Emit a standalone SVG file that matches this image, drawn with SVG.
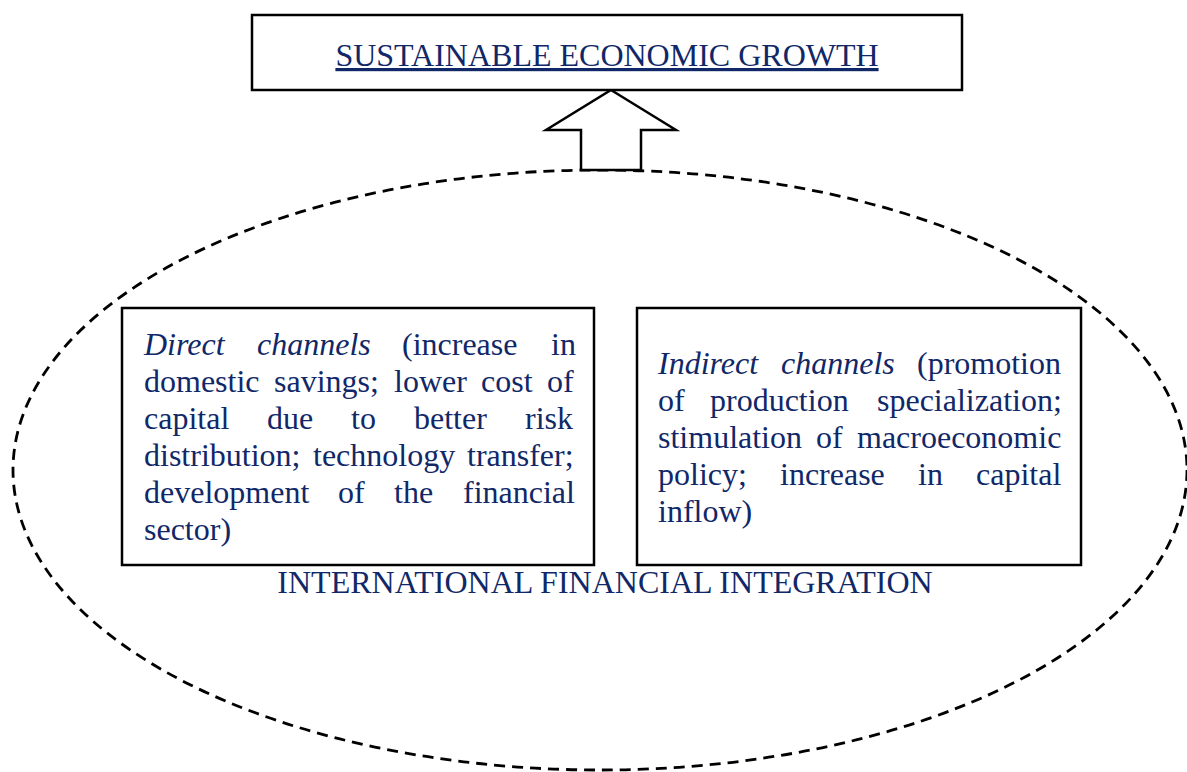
<svg xmlns="http://www.w3.org/2000/svg" width="1187" height="772" viewBox="0 0 1187 772">
  <style>
    .frame { fill: #ffffff; stroke: #000000; stroke-width: 2.5; }
    .txt { font-family: "Liberation Serif", "Times New Roman", serif; font-size: 32px; fill: #112868; }
    .it { font-style: italic; }
    .dash { fill: none; stroke: #000000; stroke-width: 2.8; stroke-dasharray: 11 7; }
  </style>
  <rect width="1187" height="772" fill="#ffffff"/>

  <!-- dashed boundary of the integration area -->
  <g id="integration">
    <ellipse class="dash" cx="600" cy="470" rx="587" ry="300"/>
    <text class="txt" x="605" y="593" text-anchor="middle">INTERNATIONAL FINANCIAL INTEGRATION</text>
  </g>

  <!-- block arrow pointing up to the growth box -->
  <g id="connectors">
    <polygon class="frame" points="611,90 676,130 641,130 641,170 581,170 581,130 546,130"/>
  </g>

  <g id="growth">
    <rect class="frame" x="252" y="15" width="710" height="75"/>
    <text class="txt" x="607" y="66" text-anchor="middle" text-decoration="underline">SUSTAINABLE ECONOMIC GROWTH</text>
  </g>

  <g id="direct">
    <rect class="frame" x="122" y="308" width="472" height="257"/>
    <text class="txt">
      <tspan class="it" x="144" y="355">Direct</tspan><tspan class="it" x="257" y="355">channels</tspan><tspan x="402" y="355">(increase</tspan><tspan x="551" y="355">in</tspan>
      <tspan x="144" y="392">domestic</tspan><tspan x="274" y="392">savings;</tspan><tspan x="394" y="392">lower</tspan><tspan x="481" y="392">cost</tspan><tspan x="547" y="392">of</tspan>
      <tspan x="144" y="429">capital</tspan><tspan x="267" y="429">due</tspan><tspan x="351" y="429">to</tspan><tspan x="414" y="429">better</tspan><tspan x="525" y="429">risk</tspan>
      <tspan x="144" y="466">distribution;</tspan><tspan x="313" y="466">technology</tspan><tspan x="467" y="466">transfer;</tspan>
      <tspan x="144" y="503">development</tspan><tspan x="338" y="503">of</tspan><tspan x="394" y="503">the</tspan><tspan x="463" y="503">financial</tspan>
      <tspan x="144" y="540">sector)</tspan>
    </text>
  </g>

  <g id="indirect">
    <rect class="frame" x="637" y="308" width="444" height="257"/>
    <text class="txt">
      <tspan class="it" x="658" y="374">Indirect</tspan><tspan class="it" x="781" y="374">channels</tspan><tspan x="917" y="374">(promotion</tspan>
      <tspan x="658" y="411">of</tspan><tspan x="710" y="411">production</tspan><tspan x="877" y="411">specialization;</tspan>
      <tspan x="658" y="448">stimulation</tspan><tspan x="816" y="448">of</tspan><tspan x="857" y="448">macroeconomic</tspan>
      <tspan x="658" y="485">policy;</tspan><tspan x="780" y="485">increase</tspan><tspan x="918" y="485">in</tspan><tspan x="976" y="485">capital</tspan>
      <tspan x="658" y="522">inflow)</tspan>
    </text>
  </g>
</svg>
